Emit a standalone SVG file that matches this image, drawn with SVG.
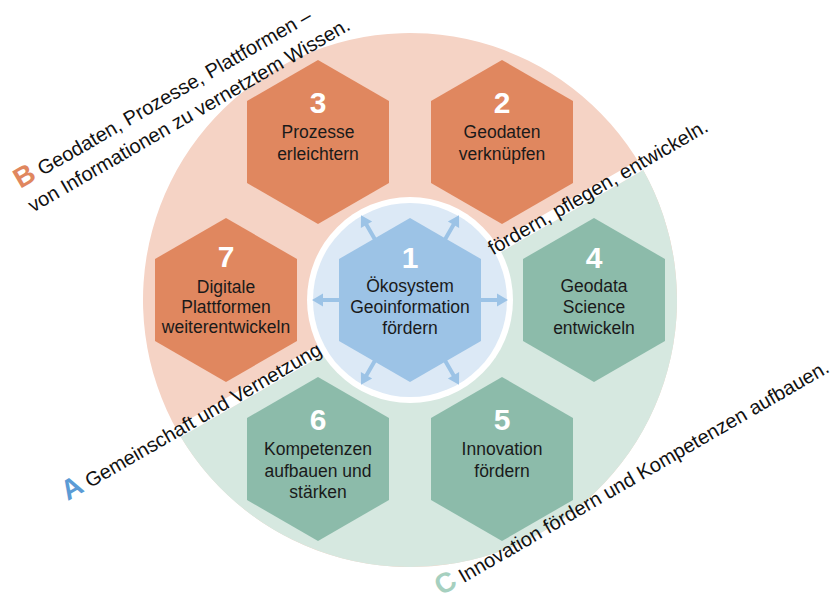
<svg xmlns="http://www.w3.org/2000/svg" xmlns:xlink="http://www.w3.org/1999/xlink" width="837" height="601" viewBox="0 0 837 601">
  <defs>
    <style>
      .num { font-family: "Liberation Sans", Arial, sans-serif; font-weight: bold; font-size: 30px; fill: #ffffff; text-anchor: middle; }
      .lbl { font-family: "Liberation Sans", Arial, sans-serif; font-size: 17.5px; fill: #1a1a1a; text-anchor: middle; }
      .band { font-family: "Liberation Sans", Arial, sans-serif; font-size: 20px; fill: #111111; }
      .big { font-weight: bold; font-size: 28px; }
      .orange { fill: #E0875F; }
      .green { fill: #8CBBAA; }
      .blue { fill: #9CC3E6; }
      .arrow { fill: #9CC3E6; }
    </style>
    <polygon id="hex" points="0,-82 71,-41 71,41 0,82 -71,41 -71,-41"/>
    <path id="arr" d="M480,298 L497,298 L497,293.5 L508,300 L497,306.5 L497,302 L480,302 Z"/>
  </defs>

  <rect x="0" y="0" width="837" height="601" fill="#ffffff"/>

  <!-- background ring sectors -->
  <g id="background" transform="rotate(-30 410 300)">
    <circle cx="410" cy="300" r="267" fill="#F5D3C5"/>
    <path d="M143.03,304 A267,267 0 0 0 676.97,304 Z" fill="#D6E8E0"/>
    <rect x="100" y="293" width="620" height="11" fill="#ffffff"/>
  </g>

  <!-- inner circle -->
  <g id="inner-circle">
    <circle cx="410" cy="300" r="103" fill="#ffffff"/>
    <circle cx="410" cy="300" r="97" fill="#DCE9F6"/>
  </g>

  <!-- connectors -->
  <g id="connectors">
    <use xlink:href="#arr" class="arrow"/>
    <use xlink:href="#arr" class="arrow" transform="rotate(60 410 300)"/>
    <use xlink:href="#arr" class="arrow" transform="rotate(120 410 300)"/>
    <use xlink:href="#arr" class="arrow" transform="rotate(180 410 300)"/>
    <use xlink:href="#arr" class="arrow" transform="rotate(240 410 300)"/>
    <use xlink:href="#arr" class="arrow" transform="rotate(300 410 300)"/>
  </g>

  <!-- node 1 -->
  <g id="node1">
    <use xlink:href="#hex" x="410" y="300" class="blue"/>
    <text class="num" x="410" y="268">1</text>
    <text class="lbl" x="410" y="292">Ökosystem</text>
    <text class="lbl" x="410" y="313">Geoinformation</text>
    <text class="lbl" x="410" y="334">fördern</text>
  </g>

  <!-- node 2 -->
  <g id="node2">
    <use xlink:href="#hex" x="502" y="142" class="orange"/>
    <text class="num" x="502" y="113">2</text>
    <text class="lbl" x="502" y="138">Geodaten</text>
    <text class="lbl" x="502" y="160">verknüpfen</text>
  </g>

  <!-- node 3 -->
  <g id="node3">
    <use xlink:href="#hex" x="318" y="142" class="orange"/>
    <text class="num" x="318" y="113">3</text>
    <text class="lbl" x="318" y="138">Prozesse</text>
    <text class="lbl" x="318" y="160">erleichtern</text>
  </g>

  <!-- node 4 -->
  <g id="node4">
    <use xlink:href="#hex" x="594" y="300" class="green"/>
    <text class="num" x="594" y="268">4</text>
    <text class="lbl" x="594" y="292">Geodata</text>
    <text class="lbl" x="594" y="313">Science</text>
    <text class="lbl" x="594" y="334">entwickeln</text>
  </g>

  <!-- node 5 -->
  <g id="node5">
    <use xlink:href="#hex" x="502" y="459" class="green"/>
    <text class="num" x="502" y="430">5</text>
    <text class="lbl" x="502" y="455">Innovation</text>
    <text class="lbl" x="502" y="477">fördern</text>
  </g>

  <!-- node 6 -->
  <g id="node6">
    <use xlink:href="#hex" x="318" y="459" class="green"/>
    <text class="num" x="318" y="430">6</text>
    <text class="lbl" x="318" y="455">Kompetenzen</text>
    <text class="lbl" x="318" y="477">aufbauen und</text>
    <text class="lbl" x="318" y="498">stärken</text>
  </g>

  <!-- node 7 -->
  <g id="node7">
    <use xlink:href="#hex" x="226" y="300" class="orange"/>
    <text class="num" x="226" y="267">7</text>
    <text class="lbl" x="226" y="293">Digitale</text>
    <text class="lbl" x="226" y="313">Plattformen</text>
    <text class="lbl" x="226" y="333">weiterentwickeln</text>
  </g>

  <!-- rotated captions -->
  <g id="captions" transform="rotate(-30 410 300)">
    <text class="band" x="13" y="303"><tspan class="big" fill="#5B9BD5">A</tspan> Gemeinschaft und Vernetzung</text>
    <text class="band" x="504" y="303">fördern, pflegen, entwickeln.</text>
    <text class="band" x="128" y="9"><tspan class="big" fill="#E0875F">B</tspan> Geodaten, Prozesse, Plattformen –</text>
    <text class="band" x="127" y="36">von Informationen zu vernetztem Wissen.</text>
    <text class="band" x="289" y="572"><tspan class="big" fill="#A6D0BF">C</tspan> Innovation fördern und Kompetenzen aufbauen.</text>
  </g>
</svg>
